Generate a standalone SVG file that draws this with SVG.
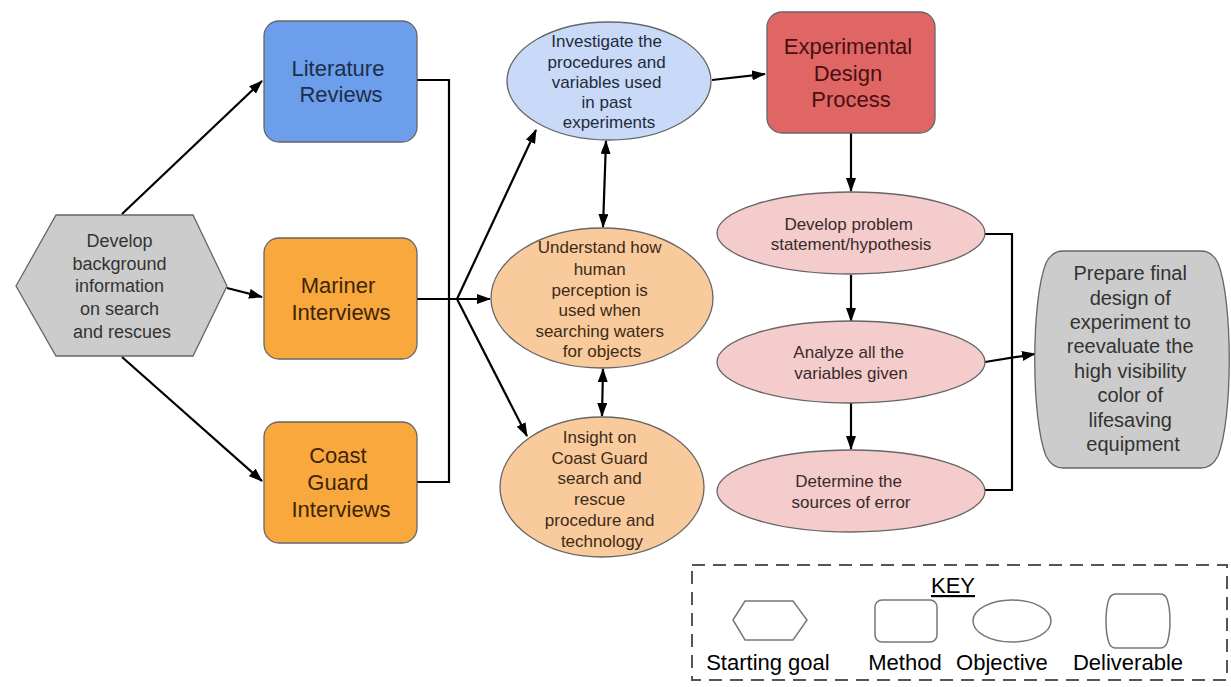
<svg xmlns="http://www.w3.org/2000/svg" width="1231" height="687" viewBox="0 0 1231 687">
<defs>
<marker id="ah" viewBox="0 0 14 10" refX="13" refY="5" markerWidth="14" markerHeight="10" markerUnits="userSpaceOnUse" orient="auto-start-reverse">
<path d="M0,0 L14,5 L0,10 Z" fill="#000"/>
</marker>
</defs>
<style>
text{font-family:"Liberation Sans",Arial,sans-serif;text-anchor:middle}
.shp{stroke:#666;stroke-width:1.3}
.con{fill:none;stroke:#000;stroke-width:2.2}
.key{fill:none;stroke:#777;stroke-width:1.5}
.t18{font-size:18px}
.t17{font-size:17px}
.t20{font-size:20px}
.t22{font-size:22px}
</style>
<rect width="1231" height="687" fill="#fff"/>

<g id="connectors">
<line class="con" x1="122" y1="214" x2="262" y2="81" marker-end="url(#ah)"/>
<line class="con" x1="227" y1="288" x2="262" y2="297" marker-end="url(#ah)"/>
<line class="con" x1="122" y1="357" x2="262" y2="481" marker-end="url(#ah)"/>
<polyline class="con" points="417,80 449,80 449,482 417,482"/>
<line class="con" x1="417" y1="299" x2="490" y2="299" marker-end="url(#ah)"/>
<line class="con" x1="457" y1="299" x2="536" y2="130" marker-end="url(#ah)"/>
<line class="con" x1="457" y1="299" x2="527" y2="436" marker-end="url(#ah)"/>
<line class="con" x1="606" y1="141" x2="603" y2="227" marker-start="url(#ah)" marker-end="url(#ah)"/>
<line class="con" x1="603" y1="369" x2="602" y2="416" marker-start="url(#ah)" marker-end="url(#ah)"/>
<line class="con" x1="712" y1="80" x2="765" y2="74" marker-end="url(#ah)"/>
<line class="con" x1="851" y1="133" x2="851" y2="191" marker-end="url(#ah)"/>
<line class="con" x1="851" y1="275" x2="851" y2="321" marker-end="url(#ah)"/>
<line class="con" x1="851" y1="403" x2="851" y2="449" marker-end="url(#ah)"/>
<polyline class="con" points="985,234 1012,234 1012,490 985,490"/>
<line class="con" x1="985" y1="362" x2="1035" y2="354" marker-end="url(#ah)"/>
</g>

<g id="start">
<polygon class="shp" points="16,286 56,215 193,215 227,286 193,356 56,356" fill="#cccccc"/>
<text class="t18" fill="#333">
<tspan x="122" y="247">Develop</tspan>
<tspan x="122" y="270">background</tspan>
<tspan x="122" y="292">information</tspan>
<tspan x="122" y="315">on search</tspan>
<tspan x="122" y="338">and rescues</tspan>
</text>
</g>

<g id="literature">
<rect class="shp" x="264" y="21" width="153" height="121" rx="15" fill="#6d9eeb"/>
<text class="t22" fill="#1c2e4a">
<tspan x="341" y="76">Literature</tspan>
<tspan x="341" y="102">Reviews</tspan>
</text>
</g>

<g id="mariner">
<rect class="shp" x="264" y="238" width="153" height="121" rx="15" fill="#f8a83d"/>
<text class="t22" fill="#3d2508">
<tspan x="341" y="293">Mariner</tspan>
<tspan x="341" y="320">Interviews</tspan>
</text>
</g>

<g id="coastguard">
<rect class="shp" x="264" y="422" width="153" height="121" rx="15" fill="#f8a83d"/>
<text class="t22" fill="#3d2508">
<tspan x="341" y="463">Coast</tspan>
<tspan x="341" y="490">Guard</tspan>
<tspan x="341" y="517">Interviews</tspan>
</text>
</g>

<g id="investigate">
<ellipse class="shp" cx="609" cy="81" rx="102" ry="59" fill="#c9daf8"/>
<text class="t17" fill="#1f2a3a">
<tspan x="609" y="47">Investigate the</tspan>
<tspan x="609" y="68">procedures and</tspan>
<tspan x="609" y="88">variables used</tspan>
<tspan x="609" y="108">in past</tspan>
<tspan x="609" y="128">experiments</tspan>
</text>
</g>

<g id="understand">
<ellipse class="shp" cx="602" cy="298" rx="111" ry="70" fill="#f9cb9c"/>
<text class="t17" fill="#3d2a17">
<tspan x="602" y="253">Understand how</tspan>
<tspan x="602" y="275">human</tspan>
<tspan x="602" y="296">perception is</tspan>
<tspan x="602" y="316">used when</tspan>
<tspan x="602" y="337">searching waters</tspan>
<tspan x="602" y="357">for objects</tspan>
</text>
</g>

<g id="insight">
<ellipse class="shp" cx="602" cy="487" rx="102" ry="70" fill="#f9cb9c"/>
<text class="t17" fill="#3d2a17">
<tspan x="602" y="443">Insight on</tspan>
<tspan x="602" y="464">Coast Guard</tspan>
<tspan x="602" y="484">search and</tspan>
<tspan x="602" y="505">rescue</tspan>
<tspan x="602" y="526">procedure and</tspan>
<tspan x="602" y="547">technology</tspan>
</text>
</g>

<g id="experimental">
<rect class="shp" x="767" y="12" width="168" height="121" rx="15" fill="#e06666"/>
<text class="t22" fill="#4a1010">
<tspan x="851" y="54">Experimental</tspan>
<tspan x="851" y="81">Design</tspan>
<tspan x="851" y="107">Process</tspan>
</text>
</g>

<g id="problem">
<ellipse class="shp" cx="851" cy="233" rx="134" ry="41" fill="#f4cccc"/>
<text class="t17" fill="#3a2a2a">
<tspan x="851" y="230">Develop problem</tspan>
<tspan x="851" y="250">statement/hypothesis</tspan>
</text>
</g>

<g id="analyze">
<ellipse class="shp" cx="851" cy="362" rx="134" ry="41" fill="#f4cccc"/>
<text class="t17" fill="#3a2a2a">
<tspan x="851" y="358">Analyze all the</tspan>
<tspan x="851" y="379">variables given</tspan>
</text>
</g>

<g id="determine">
<ellipse class="shp" cx="851" cy="491" rx="134" ry="41" fill="#f4cccc"/>
<text class="t17" fill="#3a2a2a">
<tspan x="851" y="487">Determine the</tspan>
<tspan x="851" y="508">sources of error</tspan>
</text>
</g>

<g id="deliverable">
<path class="shp" fill="#cccccc" d="M1063,251 L1201,251 Q1212,251 1218,263 C1233,300 1233,419 1218,456 Q1212,468 1201,468 L1063,468 Q1052,468 1046,456 C1031,419 1031,300 1046,263 Q1052,251 1063,251 Z"/>
<text class="t20" fill="#333">
<tspan x="1133" y="280">Prepare final</tspan>
<tspan x="1133" y="305">design of</tspan>
<tspan x="1133" y="329">experiment to</tspan>
<tspan x="1133" y="353">reevaluate the</tspan>
<tspan x="1133" y="378">high visibility</tspan>
<tspan x="1133" y="402">color of</tspan>
<tspan x="1133" y="427">lifesaving</tspan>
<tspan x="1133" y="451">equipment</tspan>
</text>
</g>

<g id="key">
<rect x="692" y="565" width="535" height="115" fill="none" stroke="#555" stroke-width="2" stroke-dasharray="13,8"/>
<text x="953" y="593" class="t22" fill="#000" text-decoration="underline">KEY</text>
<polygon class="key" points="733,620 745,601 793,601 807,620 793,640 745,640"/>
<rect class="key" x="875" y="600" width="62" height="42" rx="7"/>
<ellipse class="key" cx="1012" cy="621" rx="39" ry="21"/>
<path class="key" d="M1116,594 L1160,594 Q1165,594 1167,599 C1171,610 1171,632 1167,643 Q1165,648 1160,648 L1116,648 Q1111,648 1109,643 C1105,632 1105,610 1109,599 Q1111,594 1116,594 Z"/>
<text class="t22" fill="#000">
<tspan x="771" y="670">Starting goal</tspan>
<tspan x="908" y="670">Method</tspan>
<tspan x="1005" y="670">Objective</tspan>
<tspan x="1128" y="670">Deliverable</tspan>
</text>
</g>
</svg>
